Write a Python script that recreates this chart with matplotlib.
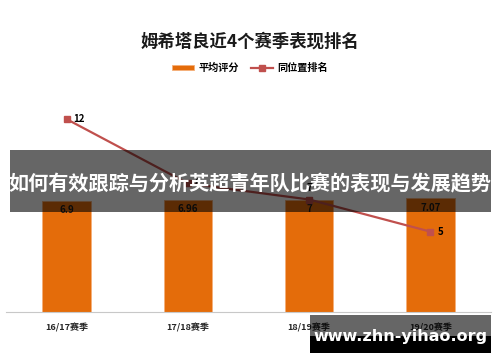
import matplotlib
matplotlib.use("Agg")
import matplotlib.pyplot as plt
from matplotlib.patches import Rectangle

plt.rcParams['font.family'] = ['Noto Sans CJK SC', 'DejaVu Sans']

seasons = ['16/17赛季', '17/18赛季', '18/19赛季', '19/20赛季']
avg_rating = [6.9, 6.96, 7.0, 7.07]
position_rank = [12, 8, 7, 5]

bar_color = '#E46C0A'
line_color = '#C0504D'

fig = plt.figure(figsize=(5, 3.62), dpi=100)
ax = fig.add_axes([6 / 500, 1 - 312 / 362, 485 / 500, 225 / 362])
ax2 = ax.twinx()

x = range(len(seasons))
bars = ax.bar(x, avg_rating, width=0.4, color=bar_color, edgecolor='#F5B07A',
              linewidth=0.6, label='平均评分', zorder=2)
line, = ax2.plot(x, position_rank, color=line_color, lw=1.6, marker='s',
                 markersize=5, label='同位置排名', zorder=3)

for xi, v in zip(x, avg_rating):
    ax.annotate(f'{v:g}', (xi, v), xytext=(0, -3), textcoords='offset points',
                ha='center', va='top', fontsize=7, fontweight='bold', color='#1a1a1a')
# rank labels sit right of the markers, except the third which sits above
offsets = [(5, 0), (5, 0), (0, 5), (5, 0)]
for xi, v, off in zip(x, position_rank, offsets):
    ax2.annotate(f'{v}', (xi, v), xytext=off, textcoords='offset points',
                 ha='left' if off[0] else 'center', va='center' if off[0] else 'bottom',
                 fontsize=7, fontweight='bold', color='#000000')

ax.set_xlim(-0.5, 3.5)
ax.set_ylim(0, 14)
ax2.set_ylim(0, 14)
ax.set_xticks(list(x))
ax.set_xticklabels(seasons, fontsize=6.5, fontweight='bold', color='#262626')
ax.tick_params(axis='x', length=0, pad=8)
ax.set_yticks([])
ax2.set_yticks([])
for a in (ax, ax2):
    for s in ('top', 'left', 'right'):
        a.spines[s].set_visible(False)
ax.spines['bottom'].set_color('#C8C8C8')
ax2.spines['bottom'].set_visible(False)

fig.text(0.5, 1 - 42 / 362, '姆希塔良近4个赛季表现排名', ha='center', va='center',
         fontsize=12.5, fontweight='bold', color='#1a1a1a')
fig.legend(handles=[bars, line], loc='center', bbox_to_anchor=(0.5, 1 - 68 / 362),
           ncol=2, frameon=False, handlelength=2.2, handleheight=0.5,
           columnspacing=1.2, handletextpad=0.4, prop={'weight': 'bold', 'size': 7.3})

# overlay banner
fig.patches.append(Rectangle((10 / 500, 1 - 212 / 362), 481 / 500, 62 / 362,
                             transform=fig.transFigure, color='black', alpha=0.6,
                             zorder=5, lw=0))
fig.text(0.5, 1 - 184 / 362, '如何有效跟踪与分析英超青年队比赛的表现与发展趋势',
         ha='center', va='center', fontsize=14.5, fontweight='bold', color='white', zorder=6)

# watermark
fig.patches.append(Rectangle((310 / 500, 1 - 336 / 362), 181 / 500, 21 / 362,
                             transform=fig.transFigure, color='black', alpha=0.6,
                             zorder=5, lw=0))
fig.patches.append(Rectangle((310 / 500, 1 - 353 / 362), 181 / 500, 17 / 362,
                             transform=fig.transFigure, color='black', zorder=5, lw=0))
fig.text(400 / 500, 1 - 337 / 362, 'www.zhn-yihao.org', ha='center', va='center',
         fontsize=11.5, fontweight='bold', color='white', family='DejaVu Sans', zorder=6)

fig.savefig('out.png', dpi=100)
